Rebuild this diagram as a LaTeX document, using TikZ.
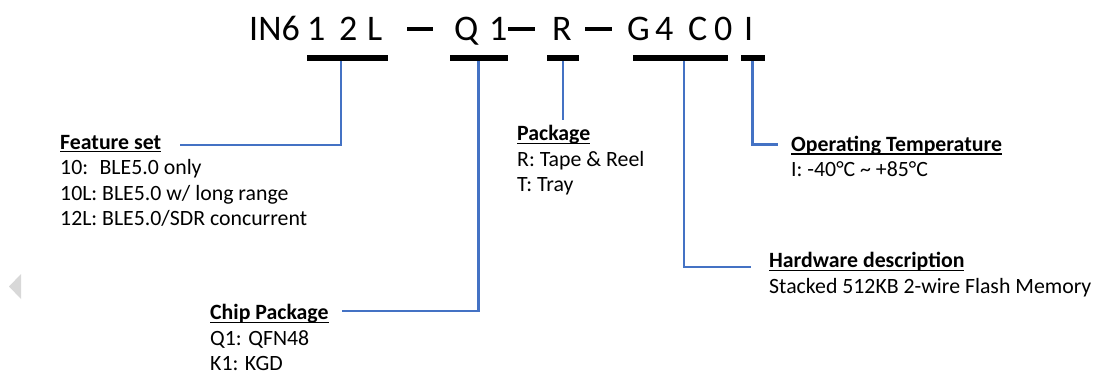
\documentclass[tikz,border=0pt]{standalone}
\usepackage{fontspec}
\setmainfont{Carlito}
\usetikzlibrary{positioning}
\definecolor{linkblue}{RGB}{68,114,196}
\definecolor{navgray}{RGB}{216,216,216}
\newsavebox\hdbox
\newcommand\hd[1]{\sbox\hdbox{\textbf{#1}}\rlap{\rule[-3.3pt]{\wd\hdbox}{1.3pt}}\usebox\hdbox}

\begin{document}
\begin{tikzpicture}[x=1pt,y=-1pt,
        title/.style={inner sep=0pt,anchor=base west,font=\fontsize{36}{40}\selectfont},
        txt/.style={inner sep=0pt,anchor=base west,align=left,font=\fontsize{21.8}{25.5}\selectfont},
        bar/.style={fill=black,inner sep=0pt,minimum height=6pt},
        link/.style={draw=linkblue,line width=2.8pt}
    ]
    \useasboundingbox (0,0) rectangle (1097,373);

    % part number
    \node[title] (in6) at (249,40) {IN6};
    \node[title] (fs1) at (307,40) {1};
    \node[title] (fs2) at (339,40) {2};
    \node[title] (fs3) at (367,40) {L};
    \node[title] (cp1) at (454,40) {Q};
    \node[title] (cp2) at (489,40) {1};
    \node[title] (pk1) at (552,40) {R};
    \node[title] (hw1) at (627,40) {G};
    \node[title] (hw2) at (655,40) {4};
    \node[title] (hw3) at (688,40) {C};
    \node[title] (hw4) at (714,40) {0};
    \node[title] (tp1) at (744,40) {I};
    \fill (407,27) rectangle (433,31);
    \fill (508,27) rectangle (535,31);
    \fill (585,27) rectangle (612,31);

    % bars
    \node[bar,minimum width=81pt] (bar fs) at (347.5,58) {};
    \node[bar,minimum width=58pt] (bar cp) at (479,58) {};
    \node[bar,minimum width=32pt] (bar pk) at (563,58) {};
    \node[bar,minimum width=95pt] (bar hw) at (680.5,58) {};
    \node[bar,minimum width=24pt] (bar tp) at (753,58) {};

    % descriptions (placed at the baseline of the last line)
    \node[txt] (fs) at (60,225.5) {\hd{Feature set}\\10:~ BLE5.0 only\\10L: BLE5.0 w/ long range\\12L: BLE5.0/SDR concurrent};
    \node[txt] (pk) at (517,191.7) {\hd{Package}\\R: Tape \& Reel\\T: Tray};
    \node[txt] (tp) at (791,176.7) {\hd{Operating Temperature}\\I: -40°C \textasciitilde{} +85°C};
    \node[txt] (hw) at (769,293) {\hd{Hardware description}\\Stacked 512KB 2-wire Flash Memory};
    \node[txt] (cp) at (210,370.5) {\hd{Chip Package}\\Q1: QFN48\\K1: KGD};

    % connectors
    \coordinate (fs in) at (180,145);
    \coordinate (cp in) at (342,311);
    \coordinate (pk in) at (563,120);
    \coordinate (hw in) at (751,267);
    \coordinate (tp in) at (778,144.5);
    \draw[link] ([xshift=-6.5pt]bar fs.south) |- (fs in);
    \draw[link] ([xshift=-0.5pt]bar cp.south) |- (cp in);
    \draw[link] (bar pk.south) -- (pk in);
    \draw[link] ([xshift=3.5pt]bar hw.south) |- (hw in);
    \draw[link] ([xshift=-0.5pt]bar tp.south) |- (tp in);

    % side arrow
    \fill[navgray] (9,286.5) -- (21,274) -- (21,299) -- cycle;
\end{tikzpicture}
\end{document}
